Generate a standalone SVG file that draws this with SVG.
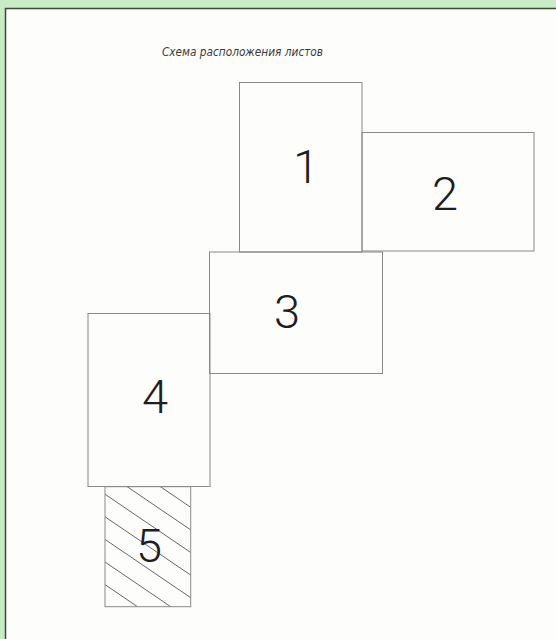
<svg xmlns="http://www.w3.org/2000/svg" width="556" height="639" viewBox="0 0 556 639">
<style>
.sheet{fill:none;stroke:#8a8a8a;stroke-width:1}
.num{font-family:Roboto,"DejaVu Sans","Liberation Sans",sans-serif;font-weight:300;font-size:47px;fill:#1e1e1e;text-anchor:middle}
.hatch{stroke:#555;stroke-width:0.9}
.title{font-family:"DejaVu Sans","Liberation Sans",sans-serif;font-style:italic;font-size:11.5px;fill:#3a3a3a}
</style>
<defs>
<clipPath id="c5"><rect x="105" y="486.7" width="85.7" height="120"/></clipPath>
</defs>
<rect x="0" y="0" width="556" height="639" fill="#c9ebc6"/>
<rect x="5" y="8" width="551" height="631" fill="#fdfdfb"/>
<path d="M5.5,639 V8.5 H556" fill="none" stroke="#3c4a3c" stroke-width="1.5"/>
<text class="title" x="162" y="56" textLength="161" lengthAdjust="spacingAndGlyphs">Схема расположения листов</text>
<g id="sheet1"><rect class="sheet" x="239.5" y="82.5" width="122.5" height="169.5"/><text class="num" x="306" y="182.5">1</text></g>
<g id="sheet2"><rect class="sheet" x="362" y="132.5" width="172" height="118.5"/><text class="num" x="445" y="210">2</text></g>
<g id="sheet3"><rect class="sheet" x="209.5" y="252" width="173" height="121.5"/><text class="num" x="287" y="328">3</text></g>
<g id="sheet4"><rect class="sheet" x="88" y="313.5" width="122" height="173"/><text class="num" x="155" y="412.5">4</text></g>
<g id="sheet5">
<g clip-path="url(#c5)">
<path class="hatch" d="M105,449 l86,58.5 M105,471.6 l86,58.5 M105,494.2 l86,58.5 M105,516.8 l86,58.5 M105,539.4 l86,58.5 M105,562 l86,58.5 M105,584.6 l86,58.5 M105,607.2 l86,58.5"/>
</g>
<rect class="sheet" x="105" y="486.7" width="85.7" height="120"/>
<text class="num" x="149" y="561.5">5</text>
</g>
</svg>
